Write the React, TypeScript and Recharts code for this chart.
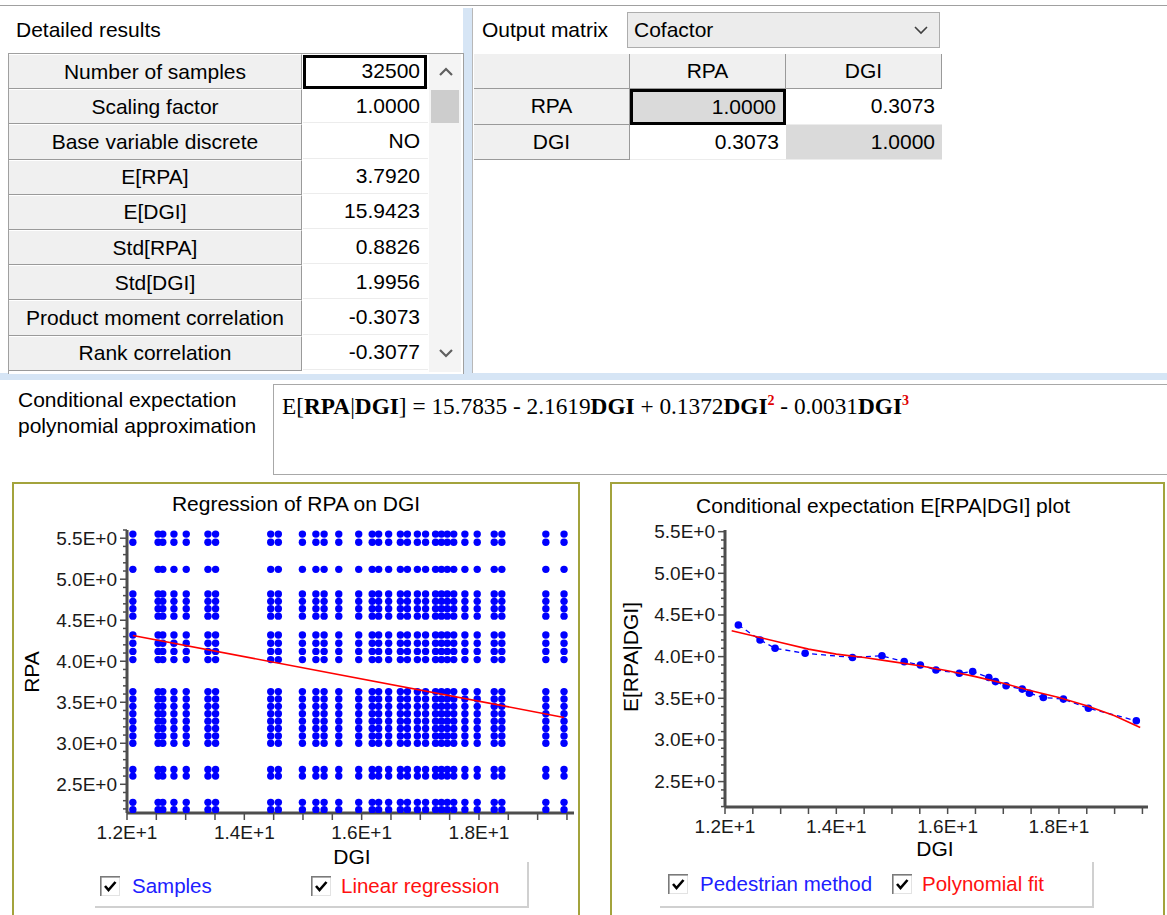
import React from 'react';
import { ScatterChart, Scatter, XAxis, YAxis } from 'recharts';

// ---- table contents ----
const statLabels = [
  'Number of samples', 'Scaling factor', 'Base variable discrete', 'E[RPA]', 'E[DGI]',
  'Std[RPA]', 'Std[DGI]', 'Product moment correlation', 'Rank correlation',
];
const statValues = ['32500', '1.0000', 'NO', '3.7920', '15.9423', '0.8826', '1.9956', '-0.3073', '-0.3077'];

const matrixNames = ['RPA', 'DGI'];
const matrixValues = [['1.0000', '0.3073'], ['0.3073', '1.0000']];

// ---- statistics used for the regression line ----
const meanRPA = 3.792;
const meanDGI = 15.9423;
const stdRPA = 0.8826;
const stdDGI = 1.9956;
const pmCorrelation = -0.3073;

// ---- sample grid: distinct DGI and RPA values ----
const dgiLevels = [
  12.10, 12.53, 12.61, 12.80, 13.01, 13.38, 13.51, 14.45, 14.58, 14.99, 15.22, 15.36, 15.61,
  15.95, 16.18, 16.29, 16.46, 16.66, 16.78, 16.95, 17.09, 17.26, 17.36, 17.46, 17.57, 17.76,
  17.97, 18.26, 18.39, 19.14, 19.45,
];
const rpaLevels = [
  2.19, 2.28, 2.60, 2.68, 3.00, 3.09, 3.18, 3.27, 3.36, 3.45, 3.54, 3.63, 4.02, 4.12, 4.22, 4.32,
  4.55, 4.64, 4.73, 4.82, 5.12, 5.45, 5.55,
];
const regressionX = [12.1, 19.45];

// ---- conditional expectation ----
const pedestrianX = [12.24, 12.63, 12.90, 13.44, 14.29, 14.82, 15.22, 15.51, 15.79, 16.21, 16.45, 16.74, 16.86, 17.05, 17.34, 17.47, 17.72, 18.08, 18.53, 19.39];
const pedestrianY = [4.38, 4.20, 4.10, 4.04, 3.99, 4.01, 3.94, 3.90, 3.84, 3.80, 3.82, 3.75, 3.70, 3.65, 3.61, 3.56, 3.51, 3.49, 3.38, 3.23];
const polyX = [12.12, 12.5, 13.0, 13.5, 14.0, 14.5, 15.0, 15.5, 16.0, 16.5, 17.0, 17.5, 18.0, 18.5, 19.0, 19.46];
const polyY = [4.31, 4.25, 4.17, 4.09, 4.03, 3.99, 3.94, 3.89, 3.83, 3.76, 3.68, 3.59, 3.51, 3.41, 3.29, 3.15];

// ---- axis labels ----
const xLabels = [12, 14, 16, 18];
const yLabels = [2.5, 3.0, 3.5, 4.0, 4.5, 5.0, 5.5];

const steps = (a: number, b: number, s: number) =>
  Array.from({ length: Math.round((b - a) / s) + 1 }, (_, i) => +(a + i * s).toFixed(2));

const samples = dgiLevels.flatMap(x => rpaLevels.map(y => ({ x, y })));
const slope = pmCorrelation * stdRPA / stdDGI;
const regression = regressionX.map(x => ({ x, y: meanRPA + slope * (x - meanDGI) }));
const pedestrian = pedestrianX.map((x, i) => ({ x, y: pedestrianY[i] }));
const polyFit = polyX.map((x, i) => ({ x, y: polyY[i] }));

const UI = '"Liberation Sans", Arial, sans-serif';
const TXT = '#1a1a1a';
const AXIS = '#4d4d4d';
const OLIVE = '#a3a33c';

const isLabel = (v: number, list: number[]) => list.some(l => Math.abs(l - v) < 1e-6);

const YTick = (props: any) => {
  const { x, y, payload } = props;
  const major = isLabel(payload.value, yLabels);
  return (
    <g>
      <line x1={x} x2={x - (major ? 7 : 4)} y1={y} y2={y} stroke={AXIS} strokeWidth={1.5} />
      {major && (
        <text x={x - 10} y={y + 6.5} textAnchor="end" fontSize={19} fontFamily={UI} fill={TXT}>
          {payload.value.toFixed(1)}E+0
        </text>
      )}
    </g>
  );
};

const XTick = (props: any) => {
  const { x, y, payload } = props;
  const major = isLabel(payload.value, xLabels);
  return (
    <g>
      <line x1={x} x2={x} y1={y} y2={y + 7} stroke={AXIS} strokeWidth={1.5} />
      {major && (
        <text x={x} y={y + 26} textAnchor="middle" fontSize={19} fontFamily={UI} fill={TXT}>
          {(payload.value / 10).toFixed(1)}E+1
        </text>
      )}
    </g>
  );
};

const dot = (r: number) => (p: any) => <circle cx={p.cx} cy={p.cy} r={r} fill="#0000ff" />;
const noDot = () => <g />;

const CheckBox = ({ left, top }: { left: number; top: number }) => (
  <svg style={{ position: 'absolute', left, top }} width={20} height={20}>
    <rect x={0} y={0} width={20} height={20} fill="#e3e3e3" />
    <rect x={2} y={2} width={17} height={17} fill="#fff" />
    <path d="M0 0 H20 M0 0 V20" stroke="#7a7a7a" strokeWidth={3} />
    <path d="M5 10 L8.5 14 L15.5 6" stroke="#000" strokeWidth={2.6} fill="none" />
  </svg>
);

const Text = ({ left, top, children, style }: any) => (
  <div style={{ position: 'absolute', left, top, whiteSpace: 'nowrap', ...style }}>{children}</div>
);

const ROW_H = 35.2;
const GRID_TOP = 54;
const LEGEND = { fontSize: 20.5 };

export default function App() {
  return (
    <div
      style={{
        position: 'absolute', left: 0, top: 0, width: 1167, height: 915, overflow: 'hidden',
        background: '#fff', fontFamily: UI, fontSize: 21, color: '#000',
      }}
    >
      {/* top separators and splitters */}
      <div style={{ position: 'absolute', left: 0, top: 5, width: 1167, height: 1, background: '#a0a0a0' }} />
      <div style={{ position: 'absolute', left: 463, top: 8, width: 9, height: 372, background: '#d6e5f5' }} />
      <div style={{ position: 'absolute', left: 0, top: 373, width: 1167, height: 7, background: '#d6e5f5' }} />

      {/* detailed results */}
      <Text left={16} top={18}>Detailed results</Text>
      <div style={{ position: 'absolute', left: 8, top: GRID_TOP - 1, width: 454, height: 320, border: '1px solid #a0a0a0', borderBottom: 'none', background: '#fff' }} />
      {statLabels.map((label, i) => (
        <div
          key={label}
          style={{
            position: 'absolute', left: 9, top: GRID_TOP + i * ROW_H, width: 292, height: ROW_H - 2,
            background: '#f0f0f0', borderRight: '1px solid #9a9a9a', borderBottom: '1px solid #9a9a9a',
            borderTop: '1px solid #fff', display: 'flex', alignItems: 'center', justifyContent: 'center',
          }}
        >
          {label}
        </div>
      ))}
      {statValues.map((v, i) => (
        <div
          key={i}
          style={{
            position: 'absolute', left: 303, top: GRID_TOP + i * ROW_H, width: 125, height: ROW_H - 1,
            borderBottom: '1px solid #ececec', display: 'flex', alignItems: 'center', justifyContent: 'flex-end',
            paddingRight: 8, boxSizing: 'border-box',
          }}
        >
          {v}
        </div>
      ))}
      <div style={{ position: 'absolute', left: 303, top: GRID_TOP + 1, width: 124, height: ROW_H - 1, border: '3px solid #000', boxSizing: 'border-box' }} />
      {/* scrollbar */}
      <div style={{ position: 'absolute', left: 429, top: GRID_TOP, width: 32, height: 318, background: '#f4f4f4' }} />
      <div style={{ position: 'absolute', left: 431, top: 90, width: 28, height: 33, background: '#cdcdcd' }} />
      <svg style={{ position: 'absolute', left: 438, top: 66 }} width={16} height={12}>
        <path d="M2 9 L8 3 L14 9" stroke="#606060" strokeWidth={2.2} fill="none" />
      </svg>
      <svg style={{ position: 'absolute', left: 438, top: 347 }} width={16} height={12}>
        <path d="M2 3 L8 9 L14 3" stroke="#606060" strokeWidth={2.2} fill="none" />
      </svg>

      {/* output matrix */}
      <div style={{ position: 'absolute', left: 472, top: 8, width: 1, height: 365, background: '#b8b8b8' }} />
      <Text left={482} top={18}>Output matrix</Text>
      <div
        style={{
          position: 'absolute', left: 627, top: 12, width: 313, height: 36, boxSizing: 'border-box',
          border: '1px solid #adadad', background: '#ececec', paddingLeft: 6, display: 'flex', alignItems: 'center',
        }}
      >
        Cofactor
      </div>
      <svg style={{ position: 'absolute', left: 914, top: 25 }} width={14} height={10}>
        <path d="M1 2 L7 8 L13 2" stroke="#404040" strokeWidth={1.6} fill="none" />
      </svg>
      {['', ...matrixNames].map((h, j) => (
        <div
          key={'h' + j}
          style={{
            position: 'absolute', left: 474 + j * 156, top: GRID_TOP, width: 155, height: 34,
            background: '#f0f0f0', borderRight: '1px solid #9a9a9a', borderBottom: '1px solid #9a9a9a',
            display: 'flex', alignItems: 'center', justifyContent: 'center',
          }}
        >
          {h}
        </div>
      ))}
      {matrixNames.map((name, i) => (
        <React.Fragment key={name}>
          <div
            style={{
              position: 'absolute', left: 474, top: 89 + i * 35.5, width: 155, height: 34.5,
              background: '#f0f0f0', borderRight: '1px solid #9a9a9a', borderBottom: '1px solid #9a9a9a',
              display: 'flex', alignItems: 'center', justifyContent: 'center',
            }}
          >
            {name}
          </div>
          {matrixValues[i].map((v, j) => (
            <div
              key={j}
              style={{
                position: 'absolute', left: 630 + j * 156, top: 89 + i * 35.5, width: 156, height: 35.5,
                boxSizing: 'border-box', background: i === j ? '#dadada' : '#fff',
                border: i === 0 && j === 0 ? '3px solid #000' : 'none',
                borderBottom: i === 0 && j === 0 ? '3px solid #000' : '1px solid #ececec',
                display: 'flex', alignItems: 'center', justifyContent: 'flex-end', paddingRight: 7,
              }}
            >
              {v}
            </div>
          ))}
        </React.Fragment>
      ))}

      {/* polynomial approximation */}
      <Text left={18} top={388}>Conditional expectation</Text>
      <Text left={18} top={414}>polynomial approximation</Text>
      <div style={{ position: 'absolute', left: 273, top: 384, width: 900, height: 91, boxSizing: 'border-box', border: '1px solid #a8a8a8' }} />
      <Text left={282} top={393} style={{ fontFamily: '"Liberation Serif", serif', fontSize: 23.3 }}>
        E[<b>RPA</b>|<b>DGI</b>] = 15.7835 - 2.1619<b>DGI</b> + 0.1372<b>DGI</b>
        <sup style={{ color: '#e00000', fontWeight: 700, fontSize: 14 }}>2</sup> - 0.0031<b>DGI</b>
        <sup style={{ color: '#e00000', fontWeight: 700, fontSize: 14 }}>3</sup>
      </Text>

      {/* regression panel */}
      <div style={{ position: 'absolute', left: 12, top: 482, width: 568, height: 460, boxSizing: 'border-box', border: `2px solid ${OLIVE}` }} />
      <Text left={296} top={492} style={{ transform: 'translateX(-50%)' }}>Regression of RPA on DGI</Text>
      <div style={{ position: 'absolute', left: 0, top: 482 }}>
        <ScatterChart width={580} height={400} margin={{ top: 48, right: 6, bottom: 39, left: 67 }}>
          <XAxis
            type="number" dataKey="x" domain={[12, 19.62]} ticks={steps(12, 19.5, 0.5)} interval={0}
            height={30} tickSize={0} tickMargin={0} tickLine={false} tick={XTick}
            axisLine={{ stroke: AXIS, strokeWidth: 3 }} allowDataOverflow
          />
          <YAxis
            type="number" dataKey="y" domain={[2.15, 5.6]} ticks={steps(2.2, 5.6, 0.1)} interval={0}
            width={60} tickSize={0} tickMargin={0} tickLine={false} tick={YTick}
            axisLine={{ stroke: AXIS, strokeWidth: 3 }} allowDataOverflow
          />
          <Scatter data={samples} shape={dot(3.7)} isAnimationActive={false} />
          <Scatter data={regression} shape={noDot} line={{ stroke: '#ff0000', strokeWidth: 1.6 }} isAnimationActive={false} />
        </ScatterChart>
      </div>
      <Text left={32} top={672} style={{ transform: 'translate(-50%, -50%) rotate(-90deg)' }}>RPA</Text>
      <Text left={352} top={845} style={{ transform: 'translateX(-50%)' }}>DGI</Text>
      <div style={{ position: 'absolute', left: 95, top: 862, width: 434, height: 46, boxSizing: 'border-box', borderRight: '2px solid #d0d0d0', borderBottom: '2px solid #d0d0d0' }} />
      <CheckBox left={100} top={876} />
      <Text left={132} top={874} style={{ ...LEGEND, color: '#2020ff' }}>Samples</Text>
      <CheckBox left={311} top={876} />
      <Text left={341} top={874} style={{ ...LEGEND, color: '#ff1010' }}>Linear regression</Text>

      {/* conditional expectation panel */}
      <div style={{ position: 'absolute', left: 610, top: 482, width: 555, height: 460, boxSizing: 'border-box', border: `2px solid ${OLIVE}` }} />
      <Text left={883} top={494} style={{ transform: 'translateX(-50%)' }}>Conditional expectation E[RPA|DGI] plot</Text>
      <div style={{ position: 'absolute', left: 610, top: 482 }}>
        <ScatterChart width={557} height={400} margin={{ top: 48, right: 19, bottom: 45, left: 55 }}>
          <XAxis
            type="number" dataKey="x" domain={[12, 19.6]} ticks={steps(12, 19.5, 0.5)} interval={0}
            height={30} tickSize={0} tickMargin={0} tickLine={false} tick={XTick}
            axisLine={{ stroke: AXIS, strokeWidth: 3 }} allowDataOverflow
          />
          <YAxis
            type="number" dataKey="y" domain={[2.195, 5.52]} ticks={steps(2.2, 5.5, 0.1)} interval={0}
            width={60} tickSize={0} tickMargin={0} tickLine={false} tick={YTick}
            axisLine={{ stroke: AXIS, strokeWidth: 3 }} allowDataOverflow
          />
          <Scatter data={pedestrian} shape={dot(3.8)} line={{ stroke: '#0000ff', strokeWidth: 1.3, strokeDasharray: '5 4' }} isAnimationActive={false} />
          <Scatter data={polyFit} shape={noDot} line={{ stroke: '#ff0000', strokeWidth: 1.6 }} isAnimationActive={false} />
        </ScatterChart>
      </div>
      <Text left={631} top={657} style={{ transform: 'translate(-50%, -50%) rotate(-90deg)' }}>E[RPA|DGI]</Text>
      <Text left={935} top={837} style={{ transform: 'translateX(-50%)' }}>DGI</Text>
      <div style={{ position: 'absolute', left: 660, top: 862, width: 434, height: 46, boxSizing: 'border-box', borderRight: '2px solid #d0d0d0', borderBottom: '2px solid #d0d0d0' }} />
      <CheckBox left={668} top={874} />
      <Text left={700} top={872} style={{ ...LEGEND, color: '#2020ff' }}>Pedestrian method</Text>
      <CheckBox left={892} top={874} />
      <Text left={922} top={872} style={{ ...LEGEND, color: '#ff1010' }}>Polynomial fit</Text>
    </div>
  );
}
